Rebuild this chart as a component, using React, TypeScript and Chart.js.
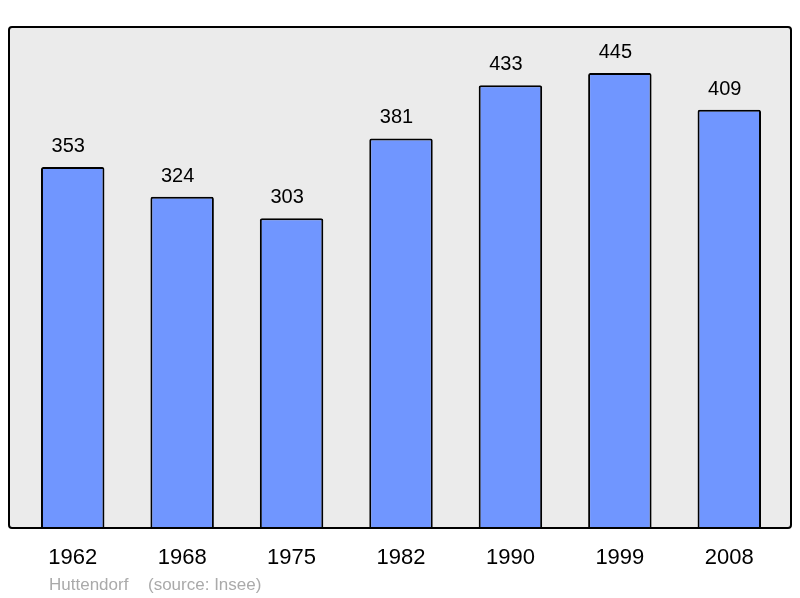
import React, { useEffect, useRef } from "react";
import { Chart, registerables } from "chart.js";

Chart.register(...registerables);

const categories = ["1962", "1968", "1975", "1982", "1990", "1999", "2008"];
const populations = [353, 324, 303, 381, 433, 445, 409];
const placeName = "Huttendorf";
const sourceText = "(source: Insee)";

const FONT = "'Liberation Sans', Arial, sans-serif";

function framePath(ctx: CanvasRenderingContext2D, x0: number, y0: number, x1: number, y1: number) {
  const r = 3;
  ctx.beginPath();
  ctx.moveTo(x0 + r, y0);
  ctx.lineTo(x1 - r, y0);
  ctx.quadraticCurveTo(x1, y0, x1, y0 + r);
  ctx.lineTo(x1, y1 - r);
  ctx.quadraticCurveTo(x1, y1, x1 - r, y1);
  ctx.lineTo(x0 + r, y1);
  ctx.quadraticCurveTo(x0, y1, x0, y1 - r);
  ctx.lineTo(x0, y0 + r);
  ctx.quadraticCurveTo(x0, y0, x0 + r, y0);
  ctx.closePath();
}

const framePlugin = {
  id: "frame",
  beforeDraw(chart: any) {
    const { ctx, chartArea } = chart;
    ctx.save();
    framePath(ctx, chartArea.left - 9, chartArea.top, chartArea.right + 7, chartArea.bottom);
    ctx.fillStyle = "#ebebeb";
    ctx.fill();
    ctx.restore();
  },
  afterDatasetsDraw(chart: any) {
    const { ctx, chartArea } = chart;
    ctx.save();
    framePath(ctx, chartArea.left - 9, chartArea.top, chartArea.right + 7, chartArea.bottom);
    ctx.lineWidth = 2;
    ctx.strokeStyle = "#000";
    ctx.stroke();

    const meta = chart.getDatasetMeta(0);
    const xScale = chart.scales.x;
    ctx.fillStyle = "#000";
    ctx.textAlign = "center";
    ctx.textBaseline = "alphabetic";
    ctx.font = `20px ${FONT}`;
    meta.data.forEach((bar: any, i: number) => {
      ctx.fillText(String(populations[i]), bar.x - 4.5, bar.y - 15);
    });
    ctx.font = `22px ${FONT}`;
    categories.forEach((c, i) => {
      ctx.fillText(c, xScale.getPixelForValue(i), chartArea.bottom + 36);
    });
    ctx.fillStyle = "#aaaaaa";
    ctx.textAlign = "left";
    ctx.font = `17px ${FONT}`;
    ctx.fillText(placeName, 49, chartArea.bottom + 62);
    ctx.fillText(sourceText, 148, chartArea.bottom + 62);
    ctx.restore();
  },
};

export default function App() {
  const canvasRef = useRef<HTMLCanvasElement | null>(null);

  useEffect(() => {
    document.body.style.margin = "0";
    const canvas = canvasRef.current!;
    const chart = new Chart(canvas, {
      type: "bar",
      data: {
        labels: categories,
        datasets: [
          {
            data: populations,
            backgroundColor: "rgb(112,150,255)",
            borderColor: "#000",
            borderWidth: 2,
            borderRadius: 2,
            borderSkipped: "bottom",
            barPercentage: 0.58,
            categoryPercentage: 1,
          },
        ],
      },
      options: {
        responsive: false,
        animation: false,
        devicePixelRatio: 1,
        layout: { padding: { left: 18, right: 16, top: 27, bottom: 70 } },
        plugins: {
          legend: { display: false },
          tooltip: { enabled: false },
          title: { display: false },
        },
        scales: {
          x: { display: false },
          y: { display: false, min: 0, max: 490 },
        },
      },
      plugins: [framePlugin],
    });
    return () => chart.destroy();
  }, []);

  return (
    <div style={{ width: 800, height: 598 }}>
      <canvas ref={canvasRef} width={800} height={598} style={{ display: "block" }} />
    </div>
  );
}
